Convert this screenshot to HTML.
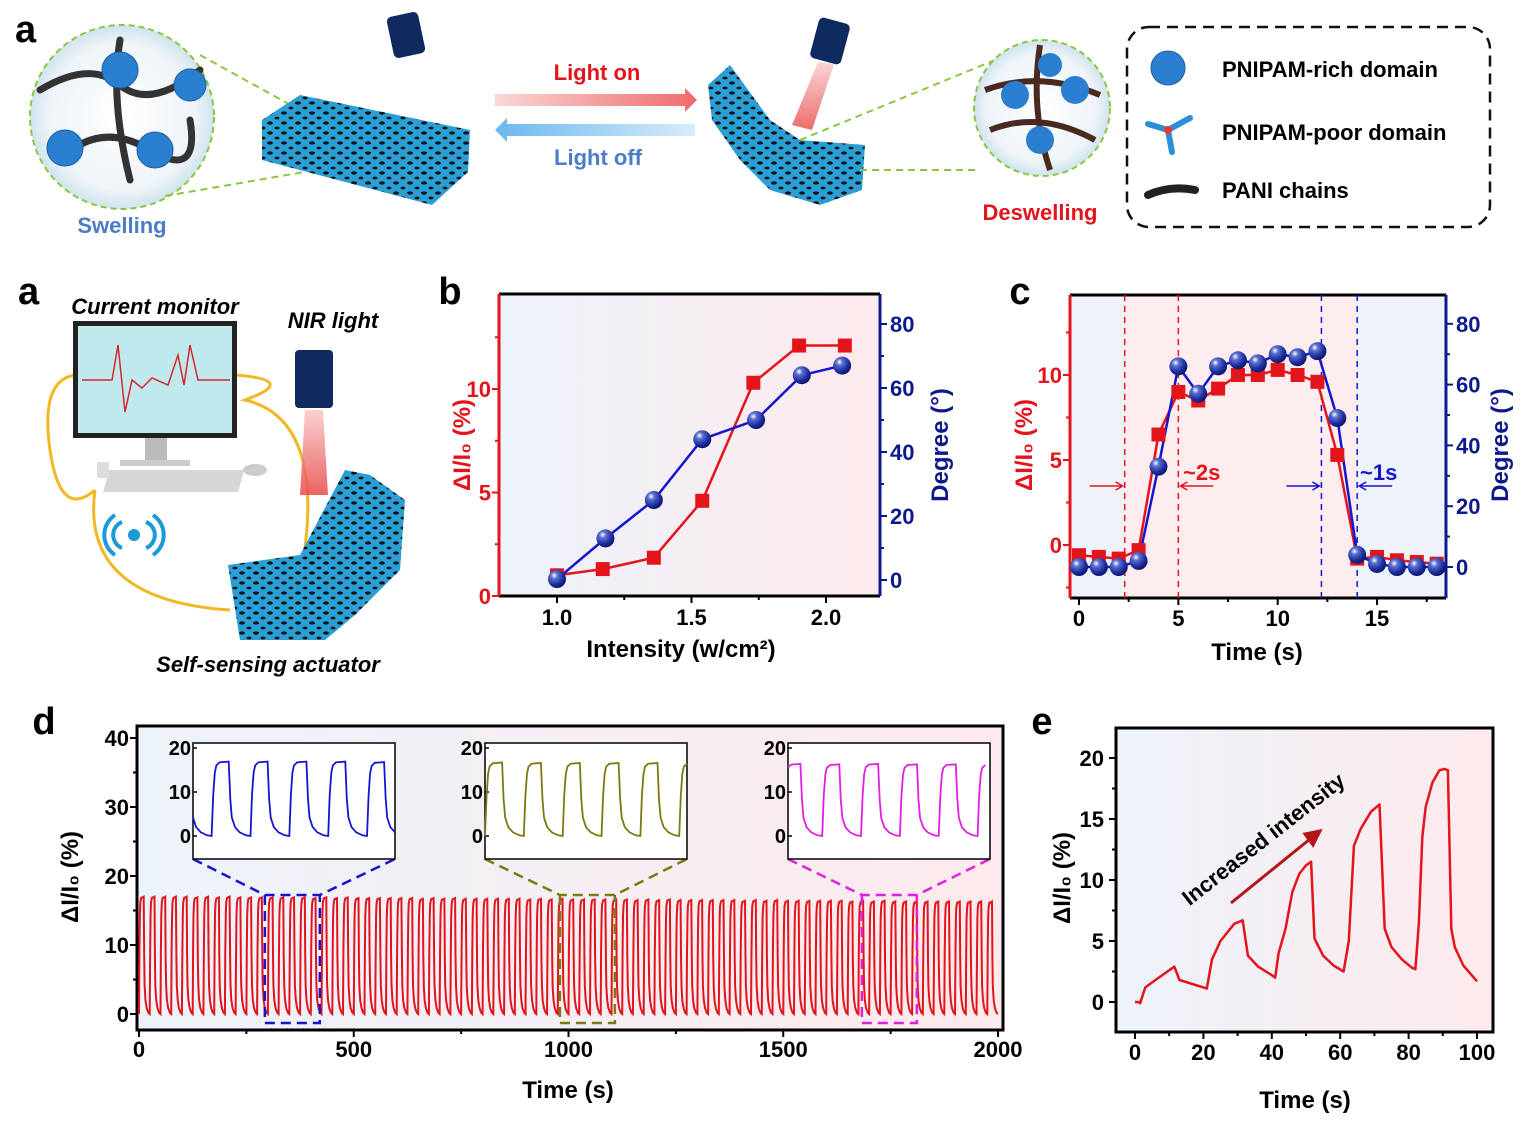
<!DOCTYPE html>
<html><head><meta charset="utf-8">
<style>
html,body{margin:0;padding:0;background:#fff;}
svg{display:block;font-family:"Liberation Sans",Arial,sans-serif;font-weight:bold;}
</style></head>
<body>
<svg id="fig" width="1534" height="1132" viewBox="0 0 1534 1132">
<defs>
<linearGradient id="bgGrad" x1="0" x2="1" y1="0" y2="0"><stop offset="0" stop-color="#edf3fa"/><stop offset="1" stop-color="#fdeaec"/></linearGradient>
<radialGradient id="ball" cx="0.35" cy="0.3" r="0.75"><stop offset="0" stop-color="#ffffff"/><stop offset="0.25" stop-color="#5a6fd0"/><stop offset="0.7" stop-color="#1a2a9a"/><stop offset="1" stop-color="#0a1460"/></radialGradient>
<linearGradient id="redArrow" x1="0" x2="1"><stop offset="0" stop-color="#fbd6d6"/><stop offset="1" stop-color="#f06a6a"/></linearGradient>
<linearGradient id="blueArrow" x1="0" x2="1"><stop offset="0" stop-color="#6ab8ee"/><stop offset="1" stop-color="#d8ecfa"/></linearGradient>
<linearGradient id="beam" x1="0" x2="0" y1="0" y2="1"><stop offset="0" stop-color="#f9c9c9"/><stop offset="1" stop-color="#e84848"/></linearGradient>
<radialGradient id="bubble" cx="0.5" cy="0.5" r="0.5"><stop offset="0" stop-color="#ffffff"/><stop offset="0.8" stop-color="#eef4f8"/><stop offset="1" stop-color="#cfe3ee"/></radialGradient>
<pattern id="tex" width="14" height="10" patternUnits="userSpaceOnUse"><rect width="14" height="10" fill="#2a9fd6"/><ellipse cx="4" cy="3" rx="3" ry="1.6" fill="#111"/><ellipse cx="11" cy="8" rx="2.5" ry="1.4" fill="#111"/></pattern>
</defs>

<!-- ===== Top panel a (illustration) ===== -->
<g>
<text x="15" y="42" font-size="38">a</text>
<circle cx="122" cy="117" r="92" fill="url(#bubble)" stroke="#8cc63f" stroke-width="2" stroke-dasharray="6,4"/>
<g fill="none" stroke="#333" stroke-width="7" stroke-linecap="round">
<path d="M40 90 Q90 60 120 85 T200 70"/><path d="M60 160 Q100 120 150 150 T190 120"/><path d="M120 40 Q110 100 130 180"/>
</g>
<g fill="#2a7fd0" stroke="#1a5fa0" stroke-width="1">
<circle cx="120" cy="70" r="18"/><circle cx="65" cy="148" r="18"/><circle cx="155" cy="150" r="18"/><circle cx="190" cy="85" r="16"/>
</g>
<line x1="200" y1="55" x2="345" y2="135" stroke="#8cc63f" stroke-width="2" stroke-dasharray="7,5"/>
<line x1="165" y1="196" x2="345" y2="165" stroke="#8cc63f" stroke-width="2" stroke-dasharray="7,5"/>
<polygon points="262,120 300,95 470,130 468,172 432,205 262,160" fill="url(#tex)"/>
<rect x="390" y="14" width="32" height="42" rx="5" fill="#0f2a5e" transform="rotate(-12 406 35)"/>
<polygon points="495,94 685,94 685,88 697,100 685,112 685,106 495,106" fill="url(#redArrow)"/>
<polygon points="695,124 507,124 507,118 495,130 507,142 507,136 695,136" fill="url(#blueArrow)"/>
<text x="597" y="80" font-size="22" fill="#e3141b" text-anchor="middle">Light on</text>
<text x="598" y="165" font-size="22" fill="#4a7cc9" text-anchor="middle">Light off</text>
<text x="122" y="233" font-size="22" fill="#4a7cc9" text-anchor="middle">Swelling</text>
<polygon points="708,85 730,65 770,120 800,140 865,145 862,190 820,205 770,190 740,160 712,120" fill="url(#tex)"/>
<rect x="814" y="20" width="32" height="42" rx="5" fill="#0f2a5e" transform="rotate(15 830 41)"/>
<polygon points="818,62 834,64 812,130 792,125" fill="url(#beam)" opacity="0.8"/>
<line x1="860" y1="170" x2="975" y2="170" stroke="#8cc63f" stroke-width="2" stroke-dasharray="7,5"/>
<line x1="800" y1="140" x2="995" y2="60" stroke="#8cc63f" stroke-width="2" stroke-dasharray="7,5"/>
<circle cx="1042" cy="108" r="68" fill="url(#bubble)" stroke="#8cc63f" stroke-width="2" stroke-dasharray="6,4"/>
<g fill="none" stroke="#4a2a20" stroke-width="6"><path d="M985 90 Q1040 70 1100 95"/><path d="M990 130 Q1040 110 1095 140"/><path d="M1040 45 Q1030 110 1050 170"/></g>
<g fill="#2a7fd0"><circle cx="1015" cy="95" r="14"/><circle cx="1075" cy="90" r="14"/><circle cx="1040" cy="140" r="14"/><circle cx="1050" cy="65" r="12"/></g>
<text x="1040" y="220" font-size="22" fill="#e3141b" text-anchor="middle">Deswelling</text>
<rect x="1127" y="27" width="363" height="200" rx="22" fill="none" stroke="#111" stroke-width="2.5" stroke-dasharray="11,7"/>
<circle cx="1168" cy="68" r="17" fill="#2a7fd0" stroke="#1a5fa0"/>
<g stroke="#2a8fd6" stroke-width="6" stroke-linecap="round"><line x1="1168" y1="130" x2="1148" y2="124"/><line x1="1168" y1="130" x2="1190" y2="118"/><line x1="1168" y1="130" x2="1172" y2="152"/></g>
<circle cx="1168" cy="130" r="4" fill="#e33"/>
<path d="M1148 195 Q1170 185 1195 190" stroke="#222" stroke-width="8" fill="none" stroke-linecap="round"/>
<text x="1222" y="77" font-size="22">PNIPAM-rich domain</text>
<text x="1222" y="140" font-size="22">PNIPAM-poor domain</text>
<text x="1222" y="198" font-size="22">PANI chains</text>
</g>

<!-- ===== Lower panel a (setup) ===== -->
<g>
<text x="18" y="304" font-size="38">a</text>
<text x="155" y="314" font-size="22" font-style="italic" text-anchor="middle">Current monitor</text>
<text x="333" y="328" font-size="22" font-style="italic" text-anchor="middle">NIR light</text>
<text x="268" y="672" font-size="22" font-style="italic" text-anchor="middle">Self-sensing actuator</text>
<path d="M75 375 Q40 380 50 450 Q60 520 95 490 M95 490 Q80 600 230 610 M300 580 Q330 420 245 400 Q300 380 235 375" fill="none" stroke="#f2b824" stroke-width="3"/>
<rect x="73" y="321" width="164" height="117" fill="#222"/>
<rect x="78" y="326" width="154" height="107" fill="#bfe9ec"/>
<path d="M82 380 L112 380 L118 345 L125 412 L132 380 L142 388 L152 378 L168 385 L178 355 L184 385 L190 345 L198 380 L230 380" fill="none" stroke="#d8262a" stroke-width="1.5"/>
<rect x="145" y="438" width="22" height="24" fill="#bbb"/><rect x="120" y="460" width="70" height="6" fill="#ccc"/>
<rect x="115" y="470" width="135" height="22" fill="#d6d6d6" transform="skewX(-15) translate(120 0)"/>
<ellipse cx="255" cy="470" rx="12" ry="6" fill="#ccc"/><rect x="97" y="462" width="12" height="16" fill="#ddd"/>
<g fill="none" stroke="#1b9ad6" stroke-width="4"><path d="M122 522 A14 14 0 0 0 122 548"/><path d="M146 522 A14 14 0 0 1 146 548"/><path d="M115 515 A24 24 0 0 0 115 555"/><path d="M153 515 A24 24 0 0 1 153 555"/></g>
<circle cx="134" cy="535" r="6" fill="#1b9ad6"/>
<rect x="295" y="350" width="38" height="58" rx="4" fill="#0f2a5e"/>
<polygon points="305,410 323,410 328,495 300,495" fill="url(#beam)" opacity="0.85"/>
<polygon points="228,565 300,555 345,470 370,475 405,500 400,570 355,615 325,640 240,640" fill="url(#tex)"/>
</g>

<g id="charts"></g>
</svg>

<script>
// ---------- data ----------
const bX = [1.0, 1.17, 1.36, 1.54, 1.73, 1.90, 2.07];
const bCurrent = [1.0, 1.3, 1.85, 4.6, 10.3, 12.1, 12.1];
const bDegX = [1.0, 1.18, 1.36, 1.54, 1.74, 1.91, 2.06];
const bDegree = [0.3, 13, 25, 44, 50, 64, 67];
const bXTicks = [1.0, 1.5, 2.0];
const bYTicks = [0, 5, 10];
const bDegTicks = [0, 20, 40, 60, 80];

const cTime = [0,1,2,3,4,5,6,7,8,9,10,11,12,13,14,15,16,17,18];
const cCurrent = [-0.6,-0.7,-0.8,-0.3,6.5,9.0,8.5,9.2,10.0,10.0,10.3,10.0,9.6,5.3,-0.8,-0.7,-0.9,-1.0,-1.1];
const cDegree = [0,0,0,2,33,66,57,66,68,67,70,69,71,49,4,1,0,0,0];
const cXTicks = [0, 5, 10, 15];
const cYTicks = [0, 5, 10];
const cDegTicks = [0, 20, 40, 60, 80];
const cMarkers = [2.3, 5.0, 12.2, 14.0];

const dPeriod = 25;
const dProfileT = [0,1,2,3,5,11,12,13,15,18,22,25];
const dProfileV = [0,0.55,0.85,0.95,0.99,1.0,0.5,0.25,0.12,0.05,0.01,0];
const dPeaks = [17.0,17.0,17.0,17.0,17.0,16.9,17.0,16.9,17.0,16.9,16.9,16.9,16.9,16.9,16.9,16.9,16.8,16.9,16.8,16.9,
 16.8,16.8,16.8,16.8,16.8,16.8,16.7,16.8,16.7,16.8,16.7,16.7,16.7,16.7,16.7,16.7,16.6,16.7,16.6,16.7,
 16.6,16.6,16.6,16.6,16.6,16.6,16.5,16.6,16.5,16.6,16.5,16.5,16.5,16.5,16.5,16.5,16.4,16.5,16.4,16.5,
 16.4,16.4,16.4,16.4,16.4,16.4,16.3,16.4,16.3,16.4,16.3,16.3,16.3,16.3,16.3,16.3,16.3,16.3,16.3,16.3];
const dXTicks = [0, 500, 1000, 1500, 2000];
const dYTicks = [0, 10, 20, 30, 40];
const dInsetStarts = [293, 980, 1683];
const dInsetColors = ['#1515d0', '#7a7a10', '#e020e0'];
const dInsetYTicks = [0, 10, 20];

const eTime = [0,1,1.5,3,6,11.5,13,20,21,22.5,25,29,31.5,33,36,40,41,42,44,46,48,50,51.5,52.5,55,58,61,62.5,64,66,69,71.5,73,75,78,81,82,83,84,85,87,89,90.5,91.5,92.5,93.5,96,100];
const eValue = [0,0,-0.1,1.2,1.8,2.9,1.8,1.2,1.1,3.5,5,6.4,6.7,3.8,2.9,2.2,2.0,4,6,9,10.5,11.2,11.5,5.2,3.8,3.0,2.5,5,12.8,14.2,15.6,16.2,6,4.5,3.5,2.8,2.7,6.5,13.5,16,18,19,19.1,19,6,4.5,3,1.7];
const eXTicks = [0, 20, 40, 60, 80, 100];
const eYTicks = [0, 5, 10, 15, 20];

// ---------- helpers ----------
const svg = document.getElementById('fig');
const NSURI = svg.namespaceURI;
const root = document.getElementById('charts');
function mk(tag, attrs, parent) {
  const el = document.createElementNS(NSURI, tag);
  for (const k in attrs) el.setAttribute(k, attrs[k]);
  (parent || root).appendChild(el);
  return el;
}
function txt(x, y, s, size, fill, anchor, parent, rot) {
  const t = mk('text', {x: x, y: y, 'font-size': size, fill: fill, 'text-anchor': anchor || 'middle'}, parent);
  if (rot) t.setAttribute('transform', 'rotate(' + rot + ' ' + x + ' ' + y + ')');
  t.textContent = s;
  return t;
}
const RED = '#e3141b', NAVY = '#0c1a8c', BLUE = '#1515d0';

// ================= Panel b =================
(function(){
  const g = mk('g', {});
  
  
  const L=499,R=880,T=294,B=596;
  const xs = v => 557 + (v-1)*269;
  const yl = v => 596 - v*20.7;
  const yr = d => 580 - d*3.2;
  const lab = txt(450, 304, 'b', 38, '#000', 'middle', g);
  
  
  mk('rect', {x:L,y:T,width:R-L,height:B-T,fill:'url(#bgGrad)'}, g);
  mk('line',{x1:L,y1:T,x2:R,y2:T,stroke:'#000','stroke-width':3},g);
  mk('line',{x1:L,y1:B,x2:R,y2:B,stroke:'#000','stroke-width':3},g);
  mk('line',{x1:L,y1:T,x2:L,y2:B,stroke:RED,'stroke-width':3},g);
  mk('line',{x1:R,y1:T,x2:R,y2:B,stroke:NAVY,'stroke-width':3},g);
  bXTicks.forEach(v=>{ mk('line',{x1:xs(v),y1:B,x2:xs(v),y2:B+7,stroke:'#000','stroke-width':2},g); txt(xs(v),B+29,v.toFixed(1),22,'#000','middle',g); });
  [1.25,1.75].forEach(v=>mk('line',{x1:xs(v),y1:B,x2:xs(v),y2:B+4,stroke:'#000','stroke-width':2},g));
  bYTicks.forEach(v=>{ mk('line',{x1:L,y1:yl(v),x2:L-7,y2:yl(v),stroke:RED,'stroke-width':2},g); txt(L-8,yl(v)+8,String(v),22,RED,'end',g); });
  [2.5,7.5,12.5].forEach(v=>mk('line',{x1:L,y1:yl(v),x2:L-4,y2:yl(v),stroke:RED,'stroke-width':2},g));
  bDegTicks.forEach(v=>{ mk('line',{x1:R,y1:yr(v),x2:R+7,y2:yr(v),stroke:NAVY,'stroke-width':2},g); txt(R+10,yr(v)+8,String(v),22,NAVY,'start',g); });
  [10,30,50,70].forEach(v=>mk('line',{x1:R,y1:yr(v),x2:R+4,y2:yr(v),stroke:NAVY,'stroke-width':2},g));
  txt(681,657,'Intensity (w/cm²)',24,'#000','middle',g);
  txt(470,445,'ΔI/I₀ (%)',24,RED,'middle',g,-90);
  txt(948,445,'Degree (°)',24,NAVY,'middle',g,-90);
  const rl = mk('polyline',{points:bX.map((v,i)=>xs(v)+','+yl(bCurrent[i])).join(' '),fill:'none',stroke:RED,'stroke-width':2.5},g);
  
  
  const bl = mk('polyline',{points:bDegX.map((v,i)=>xs(v)+','+yr(bDegree[i])).join(' '),fill:'none',stroke:BLUE,'stroke-width':2.5},g);
  
  
  bX.forEach((v,i)=>{ const m=mk('rect',{x:xs(v)-7,y:yl(bCurrent[i])-7,width:14,height:14,fill:RED},g);
    
     });
  bDegX.forEach((v,i)=>{ const m=mk('circle',{cx:xs(v),cy:yr(bDegree[i]),r:9,fill:'url(#ball)'},g);
    
     });
})();

// ================= Panel c =================
(function(){
  const g = mk('g', {});
  
  
  const L=1070,R=1446,T=295,B=598;
  const xs = t => 1079 + t*19.87;
  const yl = v => 545 - v*17;
  const yr = d => 567 - d*3.04;
  const lab = txt(1020, 304, 'c', 38, '#000', 'middle', g);
  
  
  mk('rect',{x:L,y:T,width:R-L,height:B-T,fill:'#eef3f9'},g);
  mk('rect',{x:xs(cMarkers[0]),y:T,width:xs(cMarkers[3])-xs(cMarkers[0]),height:B-T,fill:'#fdedef'},g);
  mk('line',{x1:L,y1:T,x2:R,y2:T,stroke:'#000','stroke-width':3},g);
  mk('line',{x1:L,y1:B,x2:R,y2:B,stroke:'#000','stroke-width':3},g);
  mk('line',{x1:L,y1:T,x2:L,y2:B,stroke:RED,'stroke-width':3},g);
  mk('line',{x1:R,y1:T,x2:R,y2:B,stroke:NAVY,'stroke-width':3},g);
  cXTicks.forEach(v=>{ mk('line',{x1:xs(v),y1:B,x2:xs(v),y2:B+7,stroke:'#000','stroke-width':2},g); txt(xs(v),B+28,String(v),22,'#000','middle',g); });
  [2.5,7.5,12.5,17.5].forEach(v=>mk('line',{x1:xs(v),y1:B,x2:xs(v),y2:B+4,stroke:'#000','stroke-width':2},g));
  cYTicks.forEach(v=>{ mk('line',{x1:L,y1:yl(v),x2:L-7,y2:yl(v),stroke:RED,'stroke-width':2},g); txt(L-8,yl(v)+8,String(v),22,RED,'end',g); });
  [-2.5,2.5,7.5,12.5].forEach(v=>mk('line',{x1:L,y1:yl(v),x2:L-4,y2:yl(v),stroke:RED,'stroke-width':2},g));
  cDegTicks.forEach(v=>{ mk('line',{x1:R,y1:yr(v),x2:R+7,y2:yr(v),stroke:NAVY,'stroke-width':2},g); txt(R+10,yr(v)+8,String(v),22,NAVY,'start',g); });
  [10,30,50,70].forEach(v=>mk('line',{x1:R,y1:yr(v),x2:R+4,y2:yr(v),stroke:NAVY,'stroke-width':2},g));
  txt(1257,660,'Time (s)',24,'#000','middle',g);
  txt(1032,445,'ΔI/I₀ (%)',24,RED,'middle',g,-90);
  txt(1508,445,'Degree (°)',24,NAVY,'middle',g,-90);
  cMarkers.forEach((t,i)=>{ const ln=mk('line',{x1:xs(t),y1:T,x2:xs(t),y2:B,stroke:i<2?RED:BLUE,'stroke-width':1.5,'stroke-dasharray':'6,5'},g);
    
     });
  const ay=486;
  mk('path',{d:`M${xs(cMarkers[0])-35} ${ay} H${xs(cMarkers[0])-2} M${xs(cMarkers[0])-9} ${ay-4} L${xs(cMarkers[0])-2} ${ay} L${xs(cMarkers[0])-9} ${ay+4}`,stroke:RED,'stroke-width':1.5,fill:'none'},g);
  mk('path',{d:`M${xs(cMarkers[1])+35} ${ay} H${xs(cMarkers[1])+2} M${xs(cMarkers[1])+9} ${ay-4} L${xs(cMarkers[1])+2} ${ay} L${xs(cMarkers[1])+9} ${ay+4}`,stroke:RED,'stroke-width':1.5,fill:'none'},g);
  mk('path',{d:`M${xs(cMarkers[2])-35} ${ay} H${xs(cMarkers[2])-2} M${xs(cMarkers[2])-9} ${ay-4} L${xs(cMarkers[2])-2} ${ay} L${xs(cMarkers[2])-9} ${ay+4}`,stroke:BLUE,'stroke-width':1.5,fill:'none'},g);
  mk('path',{d:`M${xs(cMarkers[3])+35} ${ay} H${xs(cMarkers[3])+2} M${xs(cMarkers[3])+9} ${ay-4} L${xs(cMarkers[3])+2} ${ay} L${xs(cMarkers[3])+9} ${ay+4}`,stroke:BLUE,'stroke-width':1.5,fill:'none'},g);
  txt(1183,480,'~2s',22,RED,'start',g);
  txt(1360,480,'~1s',22,BLUE,'start',g);
  const rl = mk('polyline',{points:cTime.map((t,i)=>xs(t)+','+yl(cCurrent[i])).join(' '),fill:'none',stroke:RED,'stroke-width':2.5,'stroke-dasharray':'0'},g);
  
  
  const bl = mk('polyline',{points:cTime.map((t,i)=>xs(t)+','+yr(cDegree[i])).join(' '),fill:'none',stroke:BLUE,'stroke-width':2.5},g);
  
  
  cTime.forEach((t,i)=>{ const m=mk('rect',{x:xs(t)-7,y:yl(cCurrent[i])-7,width:14,height:14,fill:RED},g);
    
     });
  cTime.forEach((t,i)=>{ const m=mk('circle',{cx:xs(t),cy:yr(cDegree[i]),r:9,fill:'url(#ball)'},g);
    
     });
})();

// ================= Panel d =================
function cycleSignal(t0, t1) {
  const pts = [];
  const n0 = Math.max(0, Math.floor(t0 / dPeriod));
  const n1 = Math.min(dPeaks.length - 1, Math.ceil(t1 / dPeriod));
  for (let n = n0; n <= n1; n++) {
    for (let k = 0; k < dProfileT.length; k++) {
      const t = n * dPeriod + dProfileT[k];
      if (t >= t0 && t <= t1) pts.push([t, dProfileV[k] * dPeaks[n]]);
    }
  }
  return pts;
}
(function(){
  const g = mk('g', {});
  
  
  const L=137,R=1003,T=726,B=1030;
  const xs = t => 139 + t*0.4295;
  const ys = v => 1014 - v*6.9;
  const lab = txt(44, 734, 'd', 38, '#000', 'middle', g);
  
  
  mk('rect',{x:L,y:T,width:R-L,height:B-T,fill:'url(#bgGrad)',stroke:'#000','stroke-width':3},g);
  dXTicks.forEach(v=>{ mk('line',{x1:xs(v),y1:B,x2:xs(v),y2:B+7,stroke:'#000','stroke-width':2},g); txt(xs(v),B+27,String(v),22,'#000','middle',g); });
  [250,750,1250,1750].forEach(v=>mk('line',{x1:xs(v),y1:B,x2:xs(v),y2:B+4,stroke:'#000','stroke-width':2},g));
  dYTicks.forEach(v=>{ mk('line',{x1:L,y1:ys(v),x2:L-7,y2:ys(v),stroke:'#000','stroke-width':2},g); txt(L-8,ys(v)+8,String(v),22,'#000','end',g); });
  [5,15,25,35].forEach(v=>mk('line',{x1:L,y1:ys(v),x2:L-4,y2:ys(v),stroke:'#000','stroke-width':2},g));
  txt(568,1098,'Time (s)',24,'#000','middle',g);
  txt(78,877,'ΔI/I₀ (%)',24,'#000','middle',g,-90);
  const main = cycleSignal(0, 2000);
  const ml = mk('polyline',{points:main.map(p=>xs(p[0]).toFixed(1)+','+ys(p[1]).toFixed(1)).join(' '),fill:'none',stroke:RED,'stroke-width':2},g);
  
  
  const insetX = [193, 485, 788];
  dInsetStarts.forEach((ts,i)=>{
    const col = dInsetColors[i];
    const bx0 = xs(ts), bx1 = xs(ts+128);
    const ix = insetX[i], iw = 202, iy = 743, ih = 116;
    const z = mk('path',{d:`M${ix} ${iy+ih} L${bx0} 895 L${bx1} 895 L${ix+iw} ${iy+ih} M${bx0} 895 V1023 H${bx1} V895`,fill:'none',stroke:col,'stroke-width':2.5,'stroke-dasharray':'10,6'},g);
    
    
    const box = mk('rect',{x:ix,y:iy,width:iw,height:ih,fill:'#fff',stroke:'#000','stroke-width':1.5},g);
    
    
    const t0 = ts - 5, t1 = ts + 125;
    const ixs = t => ix + (t - t0) / (t1 - t0) * iw;
    const iys = v => 836 - v*4.4;
    dInsetYTicks.forEach(v=>{ mk('line',{x1:ix,y1:iys(v),x2:ix+4,y2:iys(v),stroke:'#000','stroke-width':1.5},g); txt(ix-2,iys(v)+7,String(v),20,'#000','end',g); });
    const pts = cycleSignal(t0, t1);
    const il = mk('polyline',{points:pts.map(p=>ixs(p[0]).toFixed(1)+','+iys(p[1]).toFixed(1)).join(' '),fill:'none',stroke:col,'stroke-width':1.8},g);
    
    
  });
})();

// ================= Panel e =================
(function(){
  const g = mk('g', {});
  
  
  const L=1116,R=1493,T=728,B=1032;
  const xs = t => 1135 + t*3.42;
  const ys = v => 1002 - v*12.2;
  const lab = txt(1042, 734, 'e', 38, '#000', 'middle', g);
  
  
  mk('rect',{x:L,y:T,width:R-L,height:B-T,fill:'url(#bgGrad)',stroke:'#000','stroke-width':3},g);
  eXTicks.forEach(v=>{ mk('line',{x1:xs(v),y1:B,x2:xs(v),y2:B+7,stroke:'#000','stroke-width':2},g); txt(xs(v),B+28,String(v),22,'#000','middle',g); });
  [10,30,50,70,90].forEach(v=>mk('line',{x1:xs(v),y1:B,x2:xs(v),y2:B+4,stroke:'#000','stroke-width':2},g));
  eYTicks.forEach(v=>{ mk('line',{x1:L,y1:ys(v),x2:L-7,y2:ys(v),stroke:'#000','stroke-width':2},g); txt(L-12,ys(v)+8,String(v),22,'#000','end',g); });
  [2.5,7.5,12.5,17.5].forEach(v=>mk('line',{x1:L,y1:ys(v),x2:L-4,y2:ys(v),stroke:'#000','stroke-width':2},g));
  txt(1305,1108,'Time (s)',24,'#000','middle',g);
  txt(1070,878,'ΔI/I₀ (%)',24,'#000','middle',g,-90);
  const arr = mk('path',{d:'M1231 903 L1315 835 M1305 834 L1320 831 L1313 845 Z',stroke:'#b51518','stroke-width':3,fill:'#b51518'},g);
  
  
  txt(1268,845,'Increased intensity',22,'#000','middle',g,-38);
  const el = mk('polyline',{points:eTime.map((t,i)=>xs(t).toFixed(1)+','+ys(eValue[i]).toFixed(1)).join(' '),fill:'none',stroke:RED,'stroke-width':2.5,'stroke-linejoin':'round'},g);
  
  
})();
</script>
</body></html>
